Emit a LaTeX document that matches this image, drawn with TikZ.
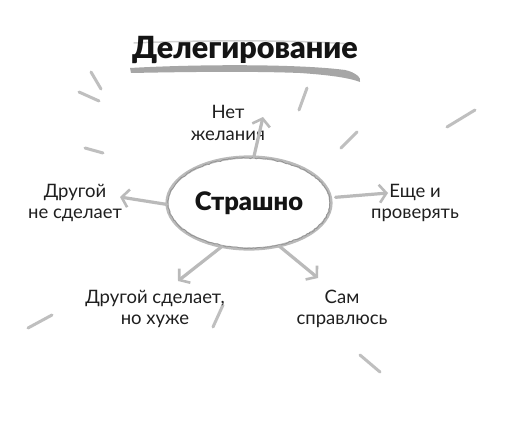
\documentclass[tikz,border=0pt]{standalone}
\usepackage{fontspec}
\setmainfont{Lato}
\newfontfamily\heavyfont{Lato Black}
\usetikzlibrary{arrows.meta,decorations.pathmorphing,shapes.geometric}
\tikzset{
  lbl/.style={font=\fontsize{18.5}{21.5}\selectfont, align=center, text=black!88, inner sep=0pt},
  ttl/.style={font=\heavyfont\fontsize{30.5}{32}\selectfont, text=black!92, inner sep=0pt},
  core/.style={ellipse, minimum width=164pt, minimum height=92pt, inner sep=0pt,
    font=\heavyfont\fontsize{25.5}{27}\selectfont, text=black!92},
  chalk/.style={draw=black!27, line width=3.2pt, line cap=round, line join=round},
  chalkfine/.style={draw=black!42, line width=0.8pt, line cap=round,
    decorate, decoration={random steps, segment length=2pt, amplitude=0.7pt}},
  spoke/.style={chalk, -{Straight Barb[length=7pt,width=18pt,line width=2.6pt]}},
  ray/.style={draw=black!25, line width=3pt, line cap=round}
}
\begin{document}
\begin{tikzpicture}[x=1pt,y=-1pt]
\useasboundingbox (0,0) rectangle (518,425);
\fill[white] (0,0) rectangle (518,425);

% title brush strokes
\draw[draw=black!18, line width=1.5pt, line cap=round] (134,43) .. controls (200,40) and (300,40) .. (350,44);
\fill[black!35] (130,68) .. controls (200,64) and (300,64) .. (345,70)
  .. controls (355,72) and (362,78) .. (360,82)
  .. controls (350,78) and (330,75) .. (300,73)
  .. controls (250,71) and (180,72) .. (131,73) -- cycle;
\node[ttl] (title) at (245,50) {Делегирование};

% decorative rays
\draw[ray] (91,72) -- (101,89);
\draw[ray] (79,92) -- (99,101);
\draw[ray] (85,148) -- (103,153);
\draw[ray] (307,88) -- (299,110);
\draw[ray] (357,132) -- (341,148);
\draw[ray] (475,110) -- (447,127);
\draw[ray] (52,315) -- (28,328);
\draw[ray] (223,305) -- (213,327);
\draw[ray] (360,355) -- (380,372);

% central node
\node[core] (core) at (249,203) {Страшно};
\draw[chalk] (core.center) ellipse [x radius=82pt, y radius=46pt];
\draw[chalkfine] (core.center) ellipse [x radius=81pt, y radius=45pt];

% labels
\node[lbl] (n1) at (228,123) {Нет\\желания};
\node[lbl] (n2) at (75,203) {Другой\\не сделает};
\node[lbl] (n3) at (415,203) {Еще и\\проверять};
\node[lbl] (n4) at (155,309) {Другой сделает,\\но хуже};
\node[lbl] (n5) at (342,309) {Сам\\справлюсь};

% arrow tips
\coordinate (t1) at (263,117);
\coordinate (t2) at (120,197);
\coordinate (t3) at (388,193);
\coordinate (t4) at (178,281);
\coordinate (t5) at (318,278);

\draw[spoke] (core.84) -- (t1);
\draw[spoke] (core.181) -- (t2);
\draw[spoke] ([xshift=5pt]core.4) -- (t3);
\draw[spoke] (core.238) -- (t4);
\draw[spoke] (core.-55) -- (t5);
\end{tikzpicture}
\end{document}
